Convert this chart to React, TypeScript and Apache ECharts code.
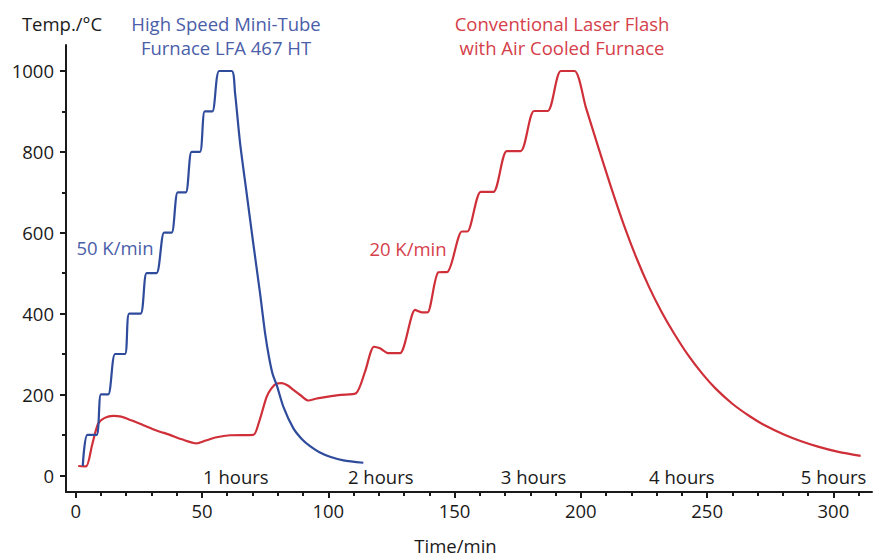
import React, { useEffect, useRef } from 'react';
import * as echarts from 'echarts';

// High Speed Mini-Tube Furnace LFA 467 HT (50 K/min)
const blueTimes = [2.8, 4.6, 8.3, 10.0, 12.9, 15.6, 19.5, 21.2, 25.7, 28.1, 32.0, 35.0, 38.0, 40.4, 43.6, 45.9, 49.2, 51.1, 54.1, 56.8, 61.8, 63.1, 65.1, 67.7, 70.3, 73.0, 75.0, 76.6, 78.0, 79.6, 82.2, 86.2, 89.5, 92.8, 96.5, 100.7, 106.0, 113.9];
const blueTemps = [23, 100, 100, 200, 200, 300, 300, 400, 400, 500, 500, 600, 600, 700, 700, 800, 800, 900, 900, 1000, 1000, 945, 821, 697, 574, 450, 351, 290, 250, 223, 170, 116, 90, 72, 57, 46, 37, 31];

// Conventional Laser Flash with Air Cooled Furnace (20 K/min)
const redTimes = [1.0, 4.1, 6.5, 8.9, 11.5, 14.9, 18.0, 22.0, 26.8, 32.0, 37.3, 42.0, 47.9, 51.5, 55.8, 61.1, 70.3, 72.5, 75.6, 77.5, 79.6, 81.6, 84.0, 86.2, 89.0, 92.1, 95.5, 99.4, 105.0, 111.0, 114.5, 118.1, 120.5, 123.8, 128.4, 134.4, 137.0, 139.3, 143.6, 147.2, 152.9, 155.1, 160.4, 165.4, 170.7, 176.2, 181.5, 186.9, 192.1, 197.5, 202.0, 207.0, 212.0, 217.0, 222.0, 227.0, 232.0, 237.0, 242.5, 248.0, 253.3, 260.0, 266.9, 273.0, 280.4, 287.0, 293.9, 302.0, 310.8];
const redTemps = [23, 22, 75, 128, 142, 147, 145, 136, 124, 111, 100, 89, 79, 86, 94, 99, 100, 130, 194, 215, 227, 228, 222, 211, 198, 185, 190, 194, 199, 203, 255, 318, 314, 302, 302, 409, 403, 403, 502, 503, 603, 603, 701, 701, 802, 802, 901, 901, 1000, 1000, 910, 810, 712, 620, 538, 466, 404, 350, 297, 252, 215, 177, 146, 123, 101, 85, 71, 58, 48];

const xLabelValues = [0, 50, 100, 150, 200, 250, 300];
const xMinorValues = [10, 20, 30, 40, 60, 70, 80, 90, 110, 120, 130, 140, 160, 170, 180, 190, 210, 220, 230, 240, 260, 270, 280, 290, 310];
const yLabelValues = [0, 200, 400, 600, 800, 1000];
const yMinorValues = [100, 300, 500, 700, 900];

const hourLabels = ['1 hours', '2 hours', '3 hours', '4 hours', '5 hours'];
const hourPositions = [63.4, 120.8, 181.3, 240, 300.1];

const FONT = '"Open Sans", "Noto Sans", sans-serif';
const FS = 18.5;
const BLUE = '#2f4b9c';
const RED = '#cf2f38';
const BLUE_TEXT = '#4a5ea9';
const RED_TEXT = '#d5404a';
const BLACK = '#1a1a1a';

export default function App() {
  const ref = useRef<HTMLDivElement>(null);
  useEffect(() => {
    if (!ref.current) return;
    const chart = echarts.init(ref.current, undefined, { renderer: 'svg' });
    const blueData = blueTimes.map((t, i) => [t, blueTemps[i]]);
    const redData = redTimes.map((t, i) => [t, redTemps[i]]);
    const hourData = hourPositions.map((t, i) => ({ value: [t, 0], name: hourLabels[i] }));

    const xBase = { type: 'value', min: -3.84, max: 315.3, splitLine: { show: false } };
    const yBase = { type: 'value', min: -41.3, max: 1064.3, splitLine: { show: false } };
    const txt = (text: string, x: number, y: number, fill: string, extra: any = {}) => ({
      type: 'text',
      x,
      y,
      silent: true,
      style: {
        text,
        fill,
        font: `${FS}px ${FONT}`,
        align: 'center',
        verticalAlign: 'middle',
        textAlign: 'center',
        textVerticalAlign: 'middle',
        ...extra,
      },
    });

    chart.setOption({
      animation: false,
      grid: { left: 66, right: 2, top: 45, bottom: 64, containLabel: false },
      xAxis: [
        {
          ...xBase,
          axisLine: { show: true, onZero: false, lineStyle: { color: BLACK, width: 2 } },
          axisTick: { show: true, length: 6, customValues: xLabelValues, lineStyle: { color: BLACK, width: 2 } },
          axisLabel: { show: true, customValues: xLabelValues, margin: 9, color: BLACK, fontFamily: FONT, fontSize: FS, formatter: (v: number) => String(v) },
        },
        {
          ...xBase,
          position: 'bottom',
          axisLine: { show: false, onZero: false },
          axisTick: { show: true, length: 4, customValues: xMinorValues, lineStyle: { color: BLACK, width: 2 } },
          axisLabel: { show: false },
        },
      ],
      yAxis: [
        {
          ...yBase,
          axisLine: { show: true, onZero: false, lineStyle: { color: BLACK, width: 2 } },
          axisTick: { show: true, length: 6, customValues: yLabelValues, lineStyle: { color: BLACK, width: 2 } },
          axisLabel: { show: true, customValues: yLabelValues, margin: 12, color: BLACK, fontFamily: FONT, fontSize: FS, formatter: (v: number) => String(v) },
        },
        {
          ...yBase,
          position: 'left',
          axisLine: { show: false, onZero: false },
          axisTick: { show: true, length: 4, customValues: yMinorValues, lineStyle: { color: BLACK, width: 2 } },
          axisLabel: { show: false },
        },
      ],
      series: [
        {
          type: 'line',
          data: redData,
          smooth: 0.25,
          showSymbol: false,
          silent: true,
          lineStyle: { color: RED, width: 2.2 },
          itemStyle: { color: RED },
        },
        {
          type: 'line',
          data: blueData,
          smooth: 0.25,
          showSymbol: false,
          silent: true,
          lineStyle: { color: BLUE, width: 2.2 },
          itemStyle: { color: BLUE },
        },
        {
          type: 'scatter',
          data: hourData,
          symbolSize: 1,
          silent: true,
          itemStyle: { color: '#ffffff' },
          label: {
            show: true,
            position: 'inside',
            offset: [0, 1],
            formatter: (p: any) => p.name,
            color: BLACK,
            textBorderWidth: 0,
            opacity: 1,
            fontFamily: FONT,
            fontSize: FS,
          },
        },
      ],
      graphic: [
        txt('Temp./°C', 62, 23, BLACK),
        txt('High Speed Mini-Tube\nFurnace LFA 467 HT', 226, 35, BLUE_TEXT, { lineHeight: 24 }),
        txt('Conventional Laser Flash\nwith Air Cooled Furnace', 562, 35.5, RED_TEXT, { lineHeight: 24 }),
        txt('50 K/min', 115, 247, BLUE_TEXT),
        txt('20 K/min', 408, 248, RED_TEXT),
        txt('Time/min', 455.5, 545, BLACK),
      ],
    });
    return () => chart.dispose();
  }, []);
  return <div ref={ref} style={{ width: 874, height: 556, position: 'fixed', left: 0, top: 0, background: '#fff' }} />;
}
